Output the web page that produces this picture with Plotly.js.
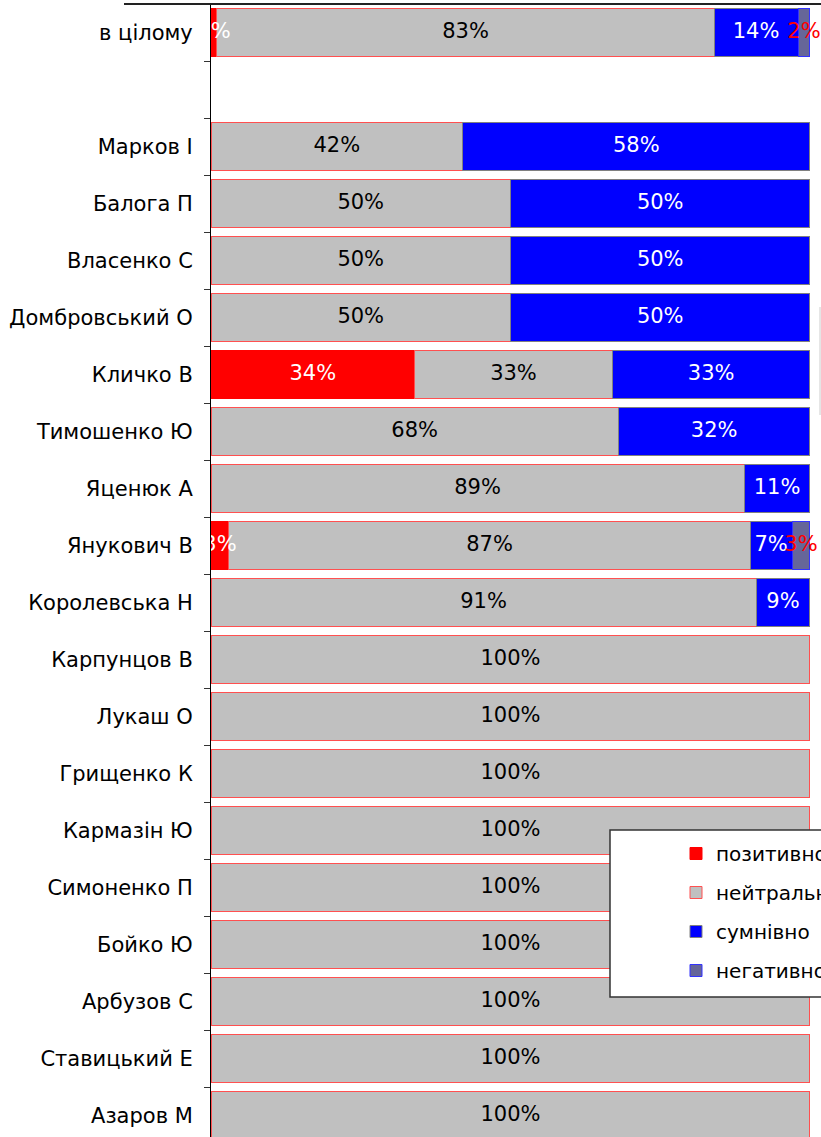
<!DOCTYPE html>
<html>
<head>
<meta charset="utf-8">
<script src="https://cdn.plot.ly/plotly-3.0.1.min.js"></script>
<style>html,body{margin:0;padding:0;background:#fff;overflow:hidden}</style>
</head>
<body>
<div id="chart" style="width:821px;height:1137px"></div>
<script>
var categories = ["в цілому", " ", "Марков І", "Балога П", "Власенко С", "Домбровський О", "Кличко В",
  "Тимошенко Ю", "Яценюк А", "Янукович В", "Королевська Н", "Карпунцов В", "Лукаш О", "Грищенко К",
  "Кармазін Ю", "Симоненко П", "Бойко Ю", "Арбузов С", "Ставицький Е", "Азаров М"];
var positive = [1, null, null, null, null, null, 34, null, null, 3, null, null, null, null, null, null, null, null, null, null];
var neutral  = [83, null, 42, 50, 50, 50, 33, 68, 89, 87, 91, 100, 100, 100, 100, 100, 100, 100, 100, 100];
var doubtful = [14, null, 58, 50, 50, 50, 33, 32, 11, 7, 9, null, null, null, null, null, null, null, null, null];
var negative = [2, null, null, null, null, null, null, null, null, 3, null, null, null, null, null, null, null, null, null, null];
var seriesNames = ["позитивно", "нейтрально", "сумнівно", "негативно"];

var FONT = "DejaVu Sans, Verdana, sans-serif";
var FS = 21;

var series = [
  {vals: positive, name: seriesNames[0], fill: "#ff0000", line: "#ff0000", txt: "#ffffff", grp: "a"},
  {vals: neutral,  name: seriesNames[1], fill: "#c0c0c0", line: "#ff5050", txt: "#000000", grp: "b"},
  {vals: doubtful, name: seriesNames[2], fill: "#0000ff", line: "#808080", txt: "#ffffff", grp: "c"},
  {vals: negative, name: seriesNames[3], fill: "#666699", line: "#3333ff", txt: "#ff0000", grp: "d"}
];

var data = [];
series.forEach(function (s) {
  data.push({
    type: "bar", orientation: "h", name: s.name, y: categories, x: s.vals,
    marker: {color: s.fill, line: {color: s.line, width: 1}},
    legendgroup: s.grp, hoverinfo: "skip"
  });
});

// labels drawn on top of all bars, centred in each stacked segment
var base = categories.map(function () { return 0; });
series.forEach(function (s) {
  var xs = [], ys = [], ts = [];
  s.vals.forEach(function (v, i) {
    if (v !== null && v > 0) {
      xs.push(base[i] + v / 2); ys.push(categories[i]); ts.push(v + "%");
      base[i] += v;
    }
  });
  data.push({
    type: "scatter", mode: "text", x: xs, y: ys, text: ts, textposition: "middle center",
    textfont: {family: FONT, size: FS, color: s.txt}, showlegend: false, hoverinfo: "skip",
    cliponaxis: true, legendgroup: s.grp
  });
});

var plotL = 211, plotW = 610, plotT = 4, plotH = 1133;
function px(x) { return (x - plotL) / plotW; }
function py(y) { return 1 - (y - plotT) / plotH; }

var layout = {
  width: 821, height: 1137,
  margin: {l: plotL, r: 0, t: plotT, b: 0, autoexpand: false},
  barmode: "stack", bargap: 0.16,
  paper_bgcolor: "#ffffff", plot_bgcolor: "#ffffff",
  font: {family: FONT, size: FS, color: "#000"},
  showlegend: true,
  legend: {
    x: px(676), xanchor: "left", y: py(834), yanchor: "top",
    bgcolor: "rgba(0,0,0,0)", borderwidth: 0, tracegroupgap: 10,
    traceorder: "grouped", font: {family: FONT, size: 20, color: "#000"}
  },
  xaxis: {
    range: [0, 101.84], showgrid: false, zeroline: false, showline: false,
    showticklabels: false, ticks: "", fixedrange: true
  },
  yaxis: {
    type: "category", categoryorder: "array", categoryarray: categories,
    range: [19.377, -0.5], autorange: false,
    showline: true, linecolor: "#000", linewidth: 1,
    ticks: "outside", tickson: "boundaries", ticklen: 6, tickcolor: "#333", tickwidth: 1,
    ticklabelstandoff: 13, showgrid: false, zeroline: false,
    tickfont: {family: FONT, size: FS, color: "#000"}
  },
  shapes: [
    {type: "line", xref: "paper", yref: "paper", x0: px(124), x1: 1.05, y0: py(4), y1: py(4),
     line: {color: "#222", width: 2}, layer: "above"},
    {type: "line", xref: "paper", yref: "paper", x0: px(820), x1: px(820), y0: py(307), y1: py(415),
     line: {color: "#cccccc", width: 1}, layer: "above"},
    {type: "rect", xref: "paper", yref: "paper", x0: px(610), x1: 1.2, y0: py(997), y1: py(830),
     fillcolor: "#ffffff", line: {color: "#333", width: 1.5}, layer: "above"}
  ]
};

Plotly.newPlot("chart", data, layout, {displayModeBar: false, staticPlot: true});
</script>
</body>
</html>
